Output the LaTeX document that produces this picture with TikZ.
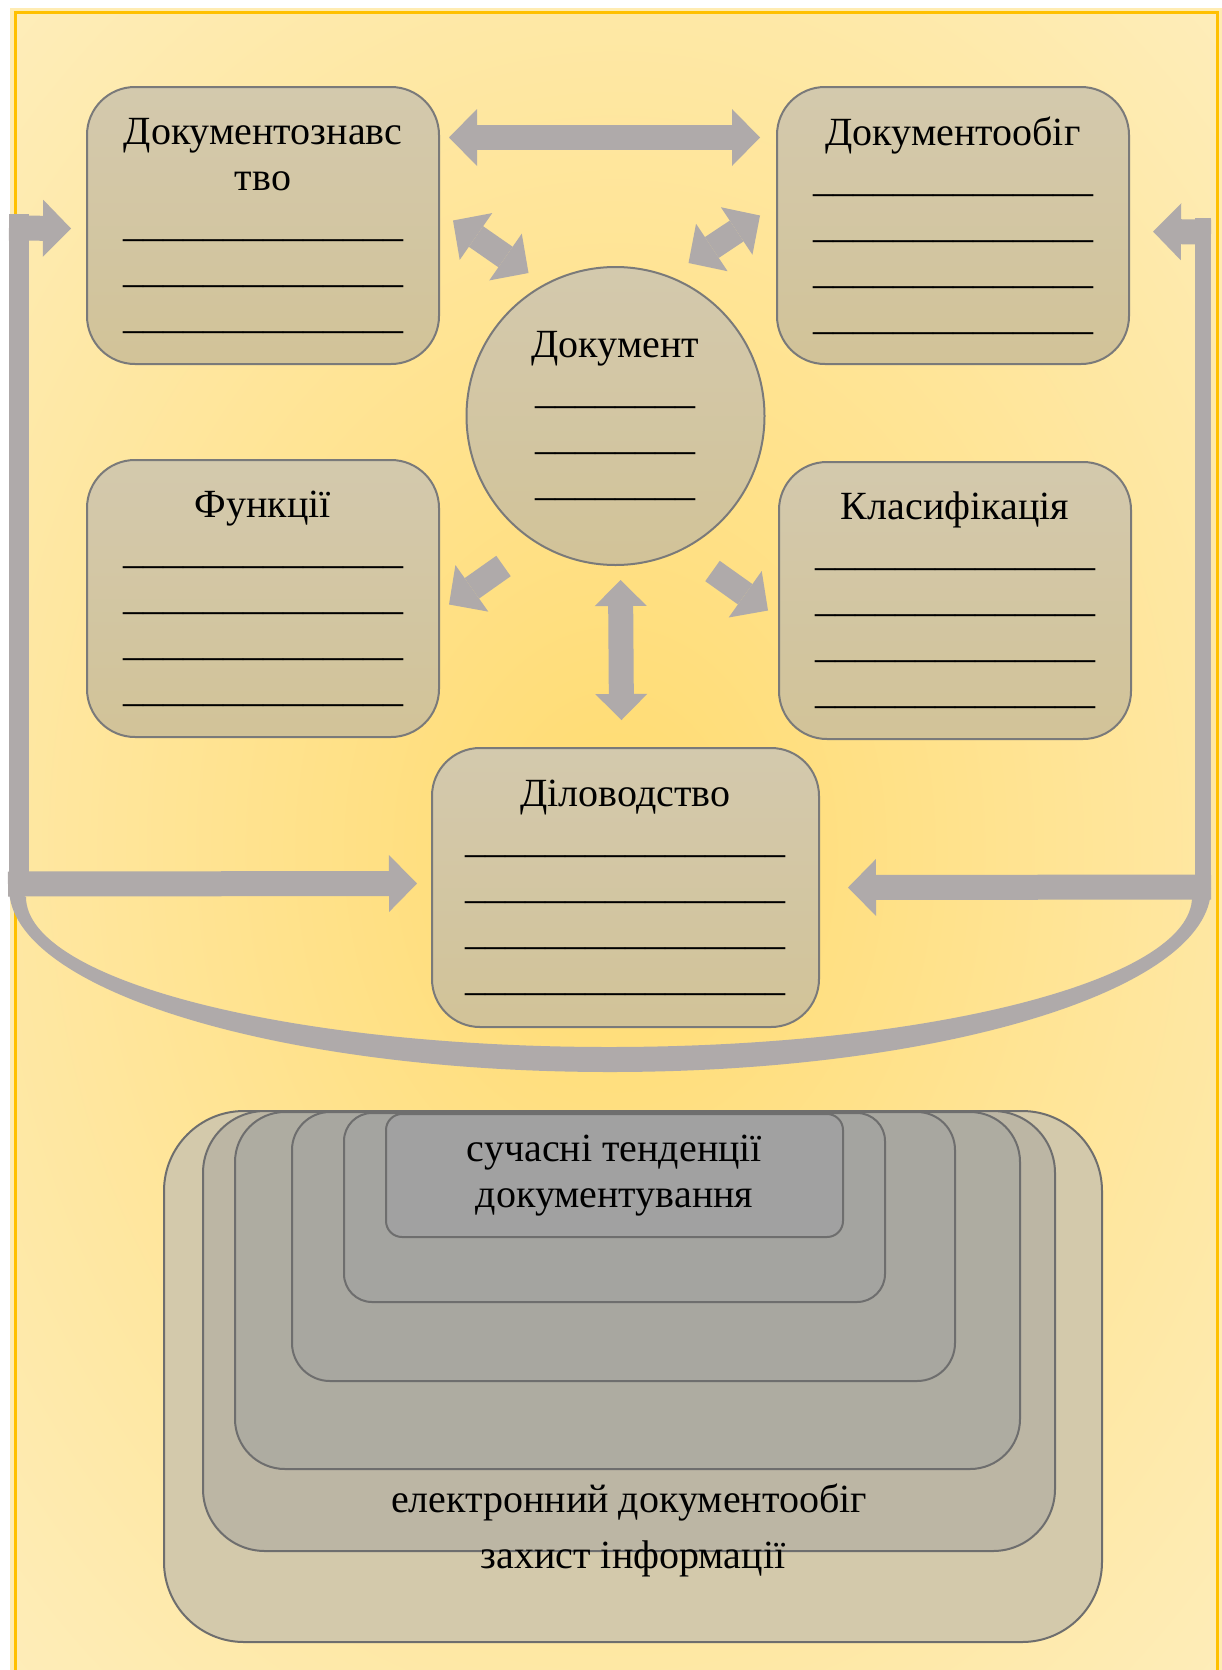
\documentclass[tikz,border=0pt]{standalone}
\usepackage{fontspec}
\setmainfont{Liberation Serif}
\usetikzlibrary{positioning,calc,arrows.meta}
\usepackage{xcolor}

\definecolor{ar}{HTML}{AFAAAA}
\definecolor{edge}{HTML}{7A7A7A}
\definecolor{bxt}{HTML}{D3C9AD}
\definecolor{bxb}{HTML}{D2C398}
\definecolor{bgin}{HTML}{FFDB70}
\definecolor{bgout}{HTML}{FEF2CE}
\definecolor{frm}{HTML}{FFC000}
\definecolor{za}{HTML}{D3C9AB}
\definecolor{zb}{HTML}{BCB6A4}
\definecolor{zc}{HTML}{AEACA1}
\definecolor{zd}{HTML}{A8A7A0}
\definecolor{ze}{HTML}{A4A4A0}
\definecolor{zf}{HTML}{A1A1A1}

\newcommand\blank[1]{\foreach\k in {1,...,#1}{\_}}

\begin{document}
\begin{tikzpicture}[x=1pt,y=-1pt,
  every node/.style={font=\fontsize{40}{46}\selectfont,align=center,},%
  >={Triangle[length=28pt,width=57pt,line width=0pt]},%
  bx/.style={rounded corners=48pt,draw=edge,line width=2pt,top color=bxt,bottom color=bxb,%
    minimum width=352pt,minimum height=277pt,inner sep=0pt,},%
  cr/.style={circle,draw=edge,line width=2pt,top color=bxt,bottom color=bxb,%
    minimum size=298pt,inner sep=0pt,},%
  nb/.style={draw=edge!90!black,line width=2pt,inner sep=0pt,anchor=north,},%
  e/.style={->,line width=25pt,draw=ar,},%
  de/.style={e,<->,},%
  bar/.style={line width=20pt,draw=ar,},%
  ]

  \useasboundingbox (0,0) rectangle (1221,1670);

  % background
  \draw[frm!30,line width=10pt] (15,13) rectangle (1217,1700);
  \begin{scope}
    \clip (15,13) rectangle (1217,1700);
    \shade[inner color=bgin,outer color=bgout] (-520,-620) rectangle (1750,2320);
  \end{scope}
  \draw[frm,line width=3pt] (15,13) rectangle (1217,1700);

  \node (dz) [bx] at (263,225.5) {Документознавс\\тво\\\blank{14}\\\blank{14}\\\blank{14}};
  \node (dob) [bx,right=336pt of dz] {Документообіг\\\blank{14}\\\blank{14}\\\blank{14}\\\blank{14}};
  \node (fun) [bx,below=94pt of dz] {Функції\\\blank{14}\\\blank{14}\\\blank{14}\\\blank{14}};
  \node (cls) [bx,below=96pt of dob,xshift=2pt] {Класифікація\\\blank{14}\\\blank{14}\\\blank{14}\\\blank{14}};
  \node (doc) [cr] at (615.5,416) {Документ\\\blank{8}\\\blank{8}\\\blank{8}};
  \node (dil) [bx,minimum width=387pt,minimum height=279pt] at (625.5,887.5) {Діловодство\\\blank{16}\\\blank{16}\\\blank{16}\\\blank{16}};

  \draw[de] ($(dz.east)+(9,-88)$) -- ($(dob.west)+(-16,-88)$);
  \draw[de] ($(dz.east)+(13,-5)$) -- ($(doc.center)+(-87,-143)$);
  \draw[de] ($(dob.west)+(-16,-10)$) -- ($(doc.center)+(73,-153)$);
  \draw[de,>={Triangle[length=26pt,width=52pt,line width=0pt]}] ($(doc.south)+(5,14)$) -- ($(dil.north)+(-4,-27)$);
  \draw[e] ($(doc.center)+(-112,150)$) -- ($(fun.east)+(9,6)$);
  \draw[e] ($(doc.center)+(97,155)$) -- ($(cls.west)+(-10,10)$);

  % loop round the boxes
  \coordinate (lt) at (19,214);
  \coordinate (lb) at (19,890);
  \coordinate (rt) at (1203,218);
  \coordinate (rb) at (1203,899);
  \draw[bar] (lt) -- (lb);
  \draw[bar,line width=16pt] (rt) -- (rb);
  \fill[ar] (9,888) arc[start angle=180,end angle=0,x radius=601,y radius=184]
    -- (1192,897) arc[start angle=0,end angle=180,x radius=583,y radius=150] -- cycle;
  \draw[e] ($(lt)+(-10,14)$) -- ($(dz.west)+(-15,3)$);
  \draw[e] ($(lb)+(-11,-6)$) -- ($(dil.west)+(-14,-4)$);
  \draw[e] ($(rt)+(8,14)$) -- ($(dob.east)+(23,6)$);
  \draw[e] ($(rb)+(8,-12)$) -- ($(dil.east)+(28,0)$);

  % nested boxes
  \node (z1) [nb,fill=za,minimum width=938pt,minimum height=531pt,rounded corners=80pt] at (633,1110) {};
  \node (z2) [nb,fill=zb,minimum width=852pt,minimum height=440pt,rounded corners=62pt] at (629,1110) {};
  \node (z3) [nb,fill=zc,minimum width=785pt,minimum height=357pt,rounded corners=50pt] at (627.5,1111) {};
  \node (z4) [nb,fill=zd,minimum width=663pt,minimum height=269pt,rounded corners=38pt] at (623.5,1111) {};
  \node (z5) [nb,fill=ze,minimum width=541pt,minimum height=189pt,rounded corners=28pt] at (614.5,1112) {};
  \node (z6) [nb,fill=zf,minimum width=457pt,minimum height=123pt,rounded corners=16pt] at (614.5,1113) {сучасні тенденції\\документування};
  \node (zt) [anchor=base] at ($(z1.south)+(0,-75)$) {захист інформації};
  \node (et) [anchor=base] at ($(z2.south)+(0,-40)$) {електронний документообіг};
\end{tikzpicture}
\end{document}
